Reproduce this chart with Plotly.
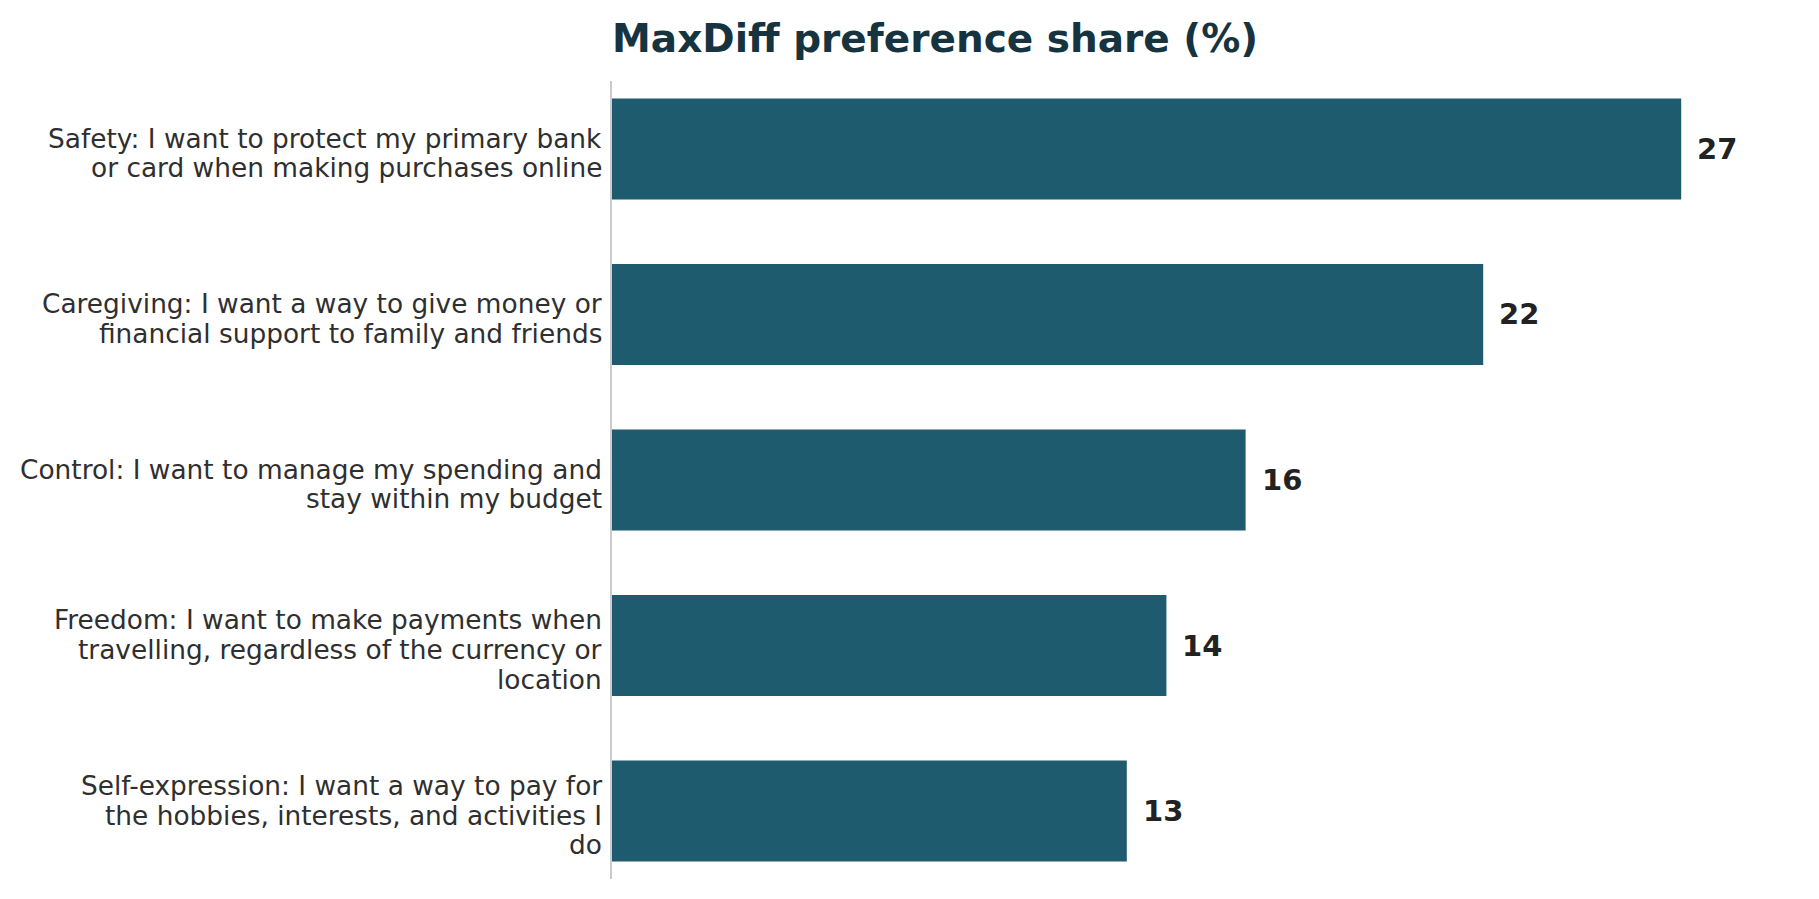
import plotly.graph_objects as go

categories = [
    "Safety: I want to protect my primary bank<br>or card when making purchases online",
    "Caregiving: I want a way to give money or<br>financial support to family and friends",
    "Control: I want to manage my spending and<br>stay within my budget",
    "Freedom: I want to make payments when<br>travelling, regardless of the currency or<br>location",
    "Self-expression: I want a way to pay for<br>the hobbies, interests, and activities I<br>do",
]
shares = [27, 22, 16, 14, 13]
value_labels = [str(v) for v in shares]

BAR = "#1f5b6e"
FONT = "DejaVu Sans"
LINE_H = 29.6

fig = go.Figure(go.Bar(
    x=shares, y=categories, orientation="h",
    marker=dict(color=BAR, line=dict(width=0)),
    width=0.61, hoverinfo="skip",
))

for c, v, t in zip(categories, shares, value_labels):
    fig.add_annotation(x=v, y=c, text="<b>%s</b>" % t, showarrow=False,
                       xanchor="left", yanchor="middle", xshift=14,
                       font=dict(family=FONT, size=29, color="#222222"))

# category labels, one annotation per line (tighter line spacing)
for c in categories:
    lines = c.split("<br>")
    n = len(lines)
    for i, ln in enumerate(lines):
        fig.add_annotation(x=0, xref="paper", y=c, yref="y", text=ln,
                           showarrow=False, xanchor="right", yanchor="middle",
                           xshift=-8, yshift=((n - 1) / 2 - i) * LINE_H - 4,
                           font=dict(family=FONT, size=26.4, color="#2f2f2f"))

fig.update_layout(
    width=1819, height=899,
    margin=dict(l=612, r=19, t=81, b=20),
    paper_bgcolor="white", plot_bgcolor="white",
    showlegend=False,
    title=dict(text="<b>MaxDiff preference share (%)</b>", x=612/1819, xanchor="left",
               y=1 - 38/899, yanchor="middle",
               font=dict(family=FONT, size=39, color="#163340")),
    xaxis=dict(range=[0, 30], visible=False, showgrid=False, zeroline=False),
    yaxis=dict(categoryorder="array", categoryarray=categories[::-1],
               range=[-0.41, 4.41],
               showline=True, linecolor="#cccccc", linewidth=1.5,
               showgrid=False, ticks="", showticklabels=False),
)

fig.write_html("out.html")
